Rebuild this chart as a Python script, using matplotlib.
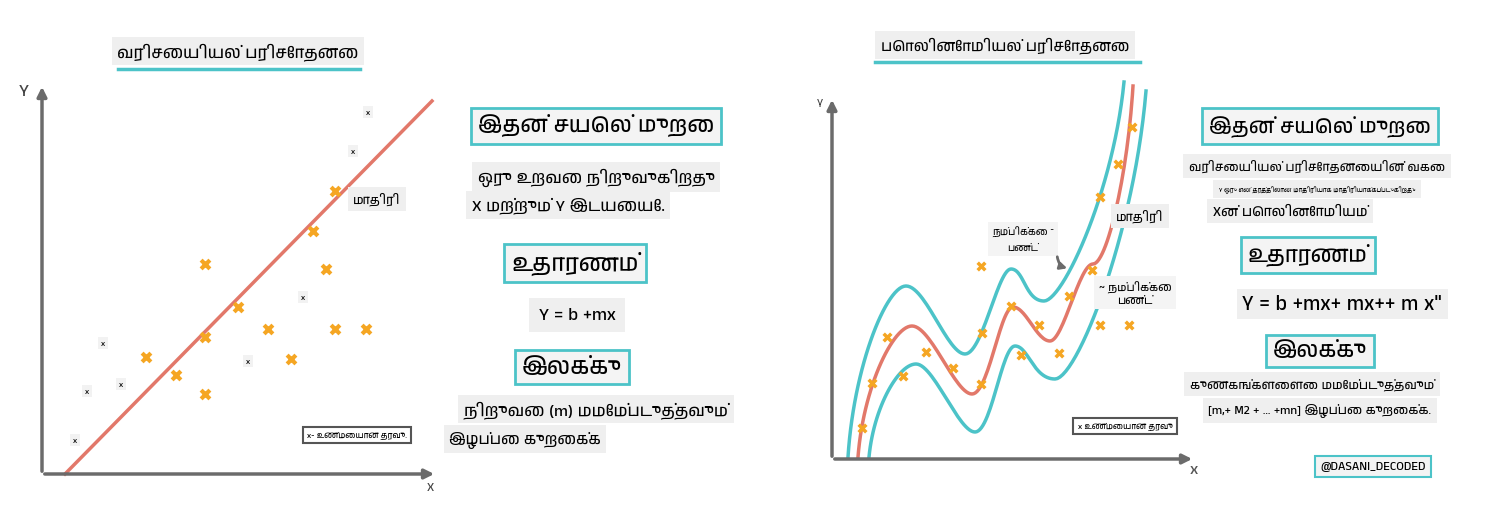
import matplotlib
matplotlib.use("Agg")
import matplotlib.pyplot as plt
from matplotlib import font_manager
import numpy as np

# try to find a font with Tamil glyphs, else fall back
names = sorted({f.name for f in font_manager.fontManager.ttflist})
tamil = [n for n in names if "Tamil" in n or "Lohit" in n or "Latha" in n]
fams = tamil[:1] + ["Noto Sans", "DejaVu Sans"]
plt.rcParams["font.family"] = fams

TEAL = "#4cc3c8"
RED = "#e2786a"
ORANGE = "#f5a623"
GREY = "#6b6b6b"

# left chart (pixel coords)
lin_x = [335, 313, 205, 326, 238, 268, 205, 335, 366, 146, 176, 291, 205]
lin_y = [192, 232, 265, 270, 308, 330, 338, 330, 330, 358, 376, 360, 395]
box_x = [368, 353, 303, 248, 103, 121, 87, 75]
box_y = [113, 152, 298, 362, 344, 385, 392, 441]
fit_x = [65, 432]
fit_y = [475, 102]

# right chart
poly_x = [1132, 1118, 1100, 1092, 981, 1069, 1011, 982, 1039, 887, 1100, 1129,
          926, 1021, 1059, 953, 872, 903, 981, 862]
poly_y = [128, 165, 198, 271, 267, 297, 307, 334, 326, 338, 326, 326,
          353, 356, 354, 369, 384, 377, 385, 429]
mid_x = [858, 912, 972, 1013, 1050, 1093, 1133]
mid_y = [458, 327, 395, 308, 342, 265, 87]
up_x = [848, 906, 965, 1011, 1044, 1124]
up_y = [458, 287, 355, 270, 302, 83]
lo_x = [869, 916, 975, 1015, 1055, 1146]
lo_y = [458, 365, 433, 347, 380, 92]


def smooth(xs, ys, n=30):
    # Catmull-Rom through the read points, flat tangent at the inner turns
    xs = np.array(xs, float); ys = np.array(ys, float)
    ox, oy = [], []
    for i in range(len(xs) - 1):
        p0, p1 = np.array([xs[i], ys[i]]), np.array([xs[i + 1], ys[i + 1]])
        if i == 0:
            m0 = (p1 - p0)
            m0 = np.array([m0[0] * 0.3, m0[1] * 1.6])
        else:
            m0 = np.array([(xs[i + 1] - xs[i - 1]) / 2, 0])
        if i + 1 == len(xs) - 1:
            m1 = (p1 - p0)
            m1 = np.array([m1[0] * 0.4, m1[1] * 1.5])
        else:
            m1 = np.array([(xs[i + 2] - xs[i]) / 2, 0])
        t = np.linspace(0, 1, n)[:, None]
        h00 = 2*t**3 - 3*t**2 + 1; h10 = t**3 - 2*t**2 + t
        h01 = -2*t**3 + 3*t**2; h11 = t**3 - t**2
        pts = h00*p0 + h10*m0 + h01*p1 + h11*m1
        ox += list(pts[:, 0]); oy += list(pts[:, 1])
    return ox, oy


fig = plt.figure(figsize=(15, 5.1), dpi=100)
ax = fig.add_axes([0, 0, 1, 1])
ax.set_xlim(0, 1500)
ax.set_ylim(510, 0)
ax.axis("off")

arrow = dict(arrowstyle="-|>", color=GREY, lw=2.5, mutation_scale=14)
# axes of both charts
for x0, y0, x1, y1 in [(42, 475, 437, 475), (832, 460, 1195, 460)]:
    ax.annotate("", xy=(x1, y1), xytext=(x0, y0), arrowprops=arrow)
for x0, y0, y1 in [(42, 475, 85), (832, 460, 98)]:
    ax.annotate("", xy=(x0, y1), xytext=(x0, y0), arrowprops=arrow)
ax.text(24, 92, "Y", fontsize=13, color="#444", ha="center", va="center")
ax.text(430, 488, "X", fontsize=9, color="#444", ha="center", va="center")
ax.text(820, 104, "Y", fontsize=8, color="#444", ha="center", va="center")
ax.text(1194, 470, "x", fontsize=12, color="#555", ha="center", va="center", weight="bold")

ax.plot(fit_x, fit_y, color=RED, lw=2.5)
ax.scatter(lin_x, lin_y, marker="x", s=40, color=ORANGE, linewidths=3, zorder=3)
for x, y in zip(box_x, box_y):
    ax.text(x, y, "x", fontsize=6, ha="center", va="center",
            bbox=dict(fc="#f2f2f2", ec="none", pad=2))

for xs, ys, c in [(up_x, up_y, TEAL), (mid_x, mid_y, RED), (lo_x, lo_y, TEAL)]:
    sx, sy = smooth(xs, ys)
    ax.plot(sx, sy, color=c, lw=2.5)
ax.scatter(poly_x, poly_y, marker="x", s=30, color=ORANGE, linewidths=2.5, zorder=3)

gb = dict(fc="#efefef", ec="none", pad=4)
tb = dict(fc="#f4f4f4", ec=TEAL, lw=2, pad=5)


def title(x, y, s, x0, x1, uy, fs):
    ax.text(x, y, s, fontsize=fs, ha="center", va="center", bbox=gb)
    ax.plot([x0, x1], [uy, uy], color=TEAL, lw=2.5)


title(238, 52, "வரிசையியல் பரிசோதனை", 118, 360, 70, 12)
title(1005, 46, "பொலினோமியல் பரிசோதனை", 875, 1140, 63, 11)

# left text panel
ax.text(596, 127, "இதன் சயெல் முறை", fontsize=16, ha="center", va="center", bbox=tb)
ax.text(596, 178, "ஒரு உறவை நிறுவுகிறது", fontsize=12, ha="center", va="center", bbox=gb)
ax.text(568, 206, "X மற்றும் Y இடயையே.", fontsize=12, ha="center", va="center", bbox=gb)
ax.text(575, 264, "உதாரணம்", fontsize=17, ha="center", va="center", bbox=tb)
ax.text(577, 316, "Y = b +mx", fontsize=13, ha="center", va="center",
        bbox=dict(fc="#efefef", ec="none", pad=7))
ax.text(572, 368, "இலக்கு", fontsize=17, ha="center", va="center", bbox=tb)
ax.text(596, 410, "நிறுவை (m) மமேம்படுத்தவும்", fontsize=12, ha="center", va="center", bbox=gb)
ax.text(525, 440, "இழப்பை குறைக்க", fontsize=11, ha="center", va="center", bbox=gb)

# right text panel
ax.text(1320, 127, "இதன் சயெல் முறை", fontsize=15, ha="center", va="center", bbox=tb)
ax.text(1317, 167, "வரிசையியல் பரிசோதனையின் வகை", fontsize=9, ha="center", va="center", bbox=gb)
ax.text(1317, 190, "Y ஒரு என் தரத்திலான மாதிரியாக மாதிரியாக்கப்படுகிறது", fontsize=4.5,
        ha="center", va="center", bbox=gb)
ax.text(1290, 212, "Xன் பொலினோமியம்", fontsize=10, ha="center", va="center", bbox=gb)
ax.text(1308, 256, "உதாரணம்", fontsize=16, ha="center", va="center", bbox=tb)
ax.text(1342, 305, 'Y = b +mx+ mx++ m x"', fontsize=15, ha="center", va="center", bbox=gb)
ax.text(1320, 352, "இலக்கு", fontsize=16, ha="center", va="center", bbox=tb)
ax.text(1312, 385, "குணகங்களைளை மமேம்படுத்தவும்", fontsize=9, ha="center", va="center", bbox=gb)
ax.text(1320, 411, "[m,+ M2 + ... +mn] இழப்பை குறைக்க.", fontsize=9, ha="center", va="center", bbox=gb)
ax.text(1373, 467, "@DASANI_DECODED", fontsize=9, ha="center", va="center",
        bbox=dict(fc="#f4f4f4", ec=TEAL, lw=1.5, pad=4))

# labels on charts
lb = dict(fc="white", ec="#555", lw=1.5, pad=3)
ax.text(357, 436, "x- உண்மையான தரவு.", fontsize=6, ha="center", va="center", bbox=lb)
ax.text(1125, 427, "x உண்மையான தரவு", fontsize=6, ha="center", va="center", bbox=lb)
ax.text(377, 200, "மாதிரி", fontsize=9, ha="center", va="center", bbox=gb)
ax.text(1140, 217, "மாதிரி", fontsize=9, ha="center", va="center", bbox=gb)
ax.text(1023, 240, "நம்பிக்கை ˜\nபண்ட்", fontsize=7, ha="center", va="center",
        bbox=dict(fc="#f4f4f4", ec="none", pad=3), linespacing=1.8)
ax.annotate("", xy=(1070, 270), xytext=(1057, 255),
            arrowprops=dict(arrowstyle="-|>", color=GREY, lw=2,
                            connectionstyle="arc3,rad=0.4", mutation_scale=10))
ax.text(1135, 294, "~ நம்பிக்கை\nபண்ட்", fontsize=8, ha="center", va="center",
        bbox=dict(fc="#f4f4f4", ec="none", pad=3))

fig.savefig("out.png", dpi=100, facecolor="white")
